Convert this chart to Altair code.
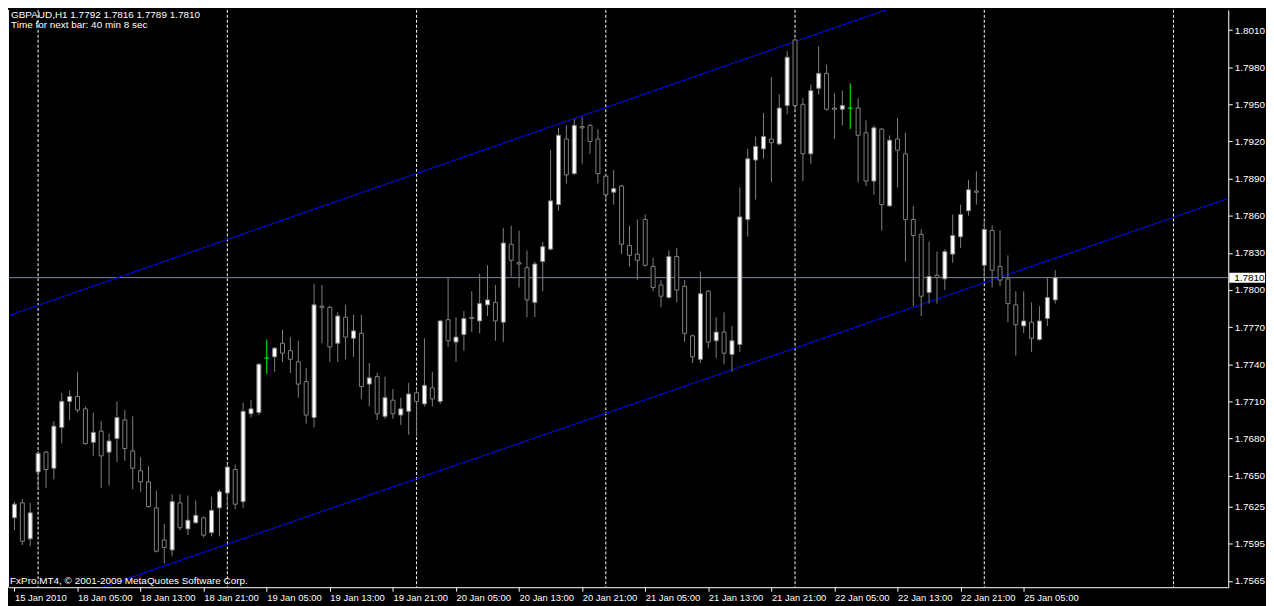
import altair as alt
import pandas as pd

# ---------------- data ----------------
symbol_info = "GBPAUD,H1  1.7792 1.7816 1.7789 1.7810"
timer_info = "Time for next bar: 40 min 8 sec"
copyright_info = "FxPro MT4, \u00a9 2001-2009 MetaQuotes Software Corp."

opens = [1.7616, 1.7628, 1.7599, 1.7653, 1.7669, 1.7656, 1.7689, 1.7710, 1.7714, 1.7704,
         1.7677, 1.7686, 1.7669, 1.7680, 1.7695, 1.7670, 1.7654, 1.7645, 1.7624, 1.7598,
         1.7590, 1.7628, 1.7607, 1.7612, 1.7616, 1.7604, 1.7624, 1.7636, 1.7655, 1.7629,
         1.7700, 1.7701, 1.7745, 1.7746, 1.7757, 1.7751, 1.7742, 1.7726, 1.7697, 1.7787,
         1.7786, 1.7757, 1.7778, 1.7761, 1.7765, 1.7724, 1.7730, 1.7698, 1.7711, 1.7699,
         1.7702, 1.7717, 1.7708, 1.7721, 1.7710, 1.7776, 1.7758, 1.7764, 1.7778, 1.7775,
         1.7788, 1.7790, 1.7774, 1.7837, 1.7822, 1.7818, 1.7790, 1.7823, 1.7833, 1.7869,
         1.7922, 1.7894, 1.7932, 1.7933, 1.7922, 1.7892, 1.7879, 1.7884, 1.7836, 1.7829,
         1.7857, 1.7819, 1.7804, 1.7794, 1.7827, 1.7803, 1.7763, 1.7744, 1.7799, 1.7759,
         1.7766, 1.7748, 1.7756, 1.7857, 1.7905, 1.7914, 1.7922, 1.7918, 1.7949, 1.8002,
         1.7950, 1.7910, 1.7963, 1.7975, 1.7947, 1.7946, 1.7947, 1.7947, 1.7927, 1.7888,
         1.7930, 1.7868, 1.7922, 1.7910, 1.7857, 1.7845, 1.7798, 1.7812, 1.7809, 1.7829,
         1.7843, 1.7864, 1.7880, 1.7820, 1.7848, 1.7819, 1.7809, 1.7788, 1.7771, 1.7774,
         1.7760, 1.7777, 1.7792]
highs = [1.7629, 1.7631, 1.7628, 1.7670, 1.7670, 1.7694, 1.7717, 1.7719, 1.7734, 1.7706,
         1.7701, 1.7694, 1.7684, 1.7710, 1.7703, 1.7698, 1.7665, 1.7658, 1.7638, 1.7611,
         1.7635, 1.7635, 1.7634, 1.7630, 1.7617, 1.7633, 1.7639, 1.7659, 1.7659, 1.7709,
         1.7711, 1.7741, 1.7760, 1.7754, 1.7768, 1.7762, 1.7759, 1.7737, 1.7805, 1.7804,
         1.7787, 1.7782, 1.7788, 1.7780, 1.7780, 1.7741, 1.7733, 1.7730, 1.7720, 1.7713,
         1.7725, 1.7720, 1.7761, 1.7734, 1.7776, 1.7810, 1.7778, 1.7783, 1.7799, 1.7813,
         1.7820, 1.7804, 1.7850, 1.7852, 1.7848, 1.7832, 1.7823, 1.7839, 1.7913, 1.7931,
         1.7933, 1.7938, 1.7940, 1.7934, 1.7930, 1.7894, 1.7897, 1.7885, 1.7852, 1.7857,
         1.7861, 1.7826, 1.7808, 1.7832, 1.7834, 1.7808, 1.7764, 1.7815, 1.7800, 1.7778,
         1.7782, 1.7771, 1.7883, 1.7914, 1.7924, 1.7943, 1.7972, 1.7958, 1.7993, 1.8003,
         1.7955, 1.7966, 1.7997, 1.7982, 1.7959, 1.7961, 1.7967, 1.7955, 1.7937, 1.7933,
         1.7931, 1.7925, 1.7939, 1.7927, 1.7868, 1.7849, 1.7839, 1.7831, 1.7833, 1.7861,
         1.7869, 1.7889, 1.7896, 1.7856, 1.7852, 1.7848, 1.7828, 1.7799, 1.7799, 1.7790,
         1.7787, 1.7810, 1.7816]
lows = [1.7606, 1.7594, 1.7593, 1.7639, 1.7640, 1.7647, 1.7676, 1.7695, 1.7701, 1.7675,
        1.7666, 1.7640, 1.7642, 1.7661, 1.7662, 1.7639, 1.7637, 1.7624, 1.7588, 1.7579,
        1.7585, 1.7606, 1.7602, 1.7611, 1.7600, 1.7601, 1.7601, 1.7625, 1.7623, 1.7624,
        1.7697, 1.7699, 1.7732, 1.7734, 1.7742, 1.7733, 1.7713, 1.7692, 1.7689, 1.7757,
        1.7742, 1.7742, 1.7744, 1.7746, 1.7712, 1.7706, 1.7695, 1.7696, 1.7696, 1.7691,
        1.7683, 1.7682, 1.7706, 1.7706, 1.7708, 1.7754, 1.7742, 1.7751, 1.7766, 1.7765,
        1.7779, 1.7759, 1.7758, 1.7811, 1.7802, 1.7778, 1.7778, 1.7799, 1.7832, 1.7864,
        1.7886, 1.7893, 1.7902, 1.7910, 1.7886, 1.7872, 1.7869, 1.7829, 1.7819, 1.7808,
        1.7819, 1.7799, 1.7786, 1.7793, 1.7790, 1.7758, 1.7741, 1.7741, 1.7753, 1.7745,
        1.7740, 1.7734, 1.7750, 1.7843, 1.7873, 1.7906, 1.7887, 1.7917, 1.7942, 1.7946,
        1.7888, 1.7902, 1.7958, 1.7945, 1.7922, 1.7933, 1.7930, 1.7887, 1.7884, 1.7877,
        1.7848, 1.7867, 1.7883, 1.7823, 1.7787, 1.7779, 1.7789, 1.7789, 1.7800, 1.7822,
        1.7834, 1.7860, 1.7869, 1.7811, 1.7802, 1.7803, 1.7774, 1.7747, 1.7765, 1.7750,
        1.7759, 1.7771, 1.7789]
closes = [1.7627, 1.7597, 1.7620, 1.7668, 1.7655, 1.7690, 1.7710, 1.7714, 1.7703, 1.7676,
          1.7685, 1.7666, 1.7678, 1.7697, 1.7672, 1.7656, 1.7645, 1.7625, 1.7589, 1.7592,
          1.7629, 1.7608, 1.7614, 1.7618, 1.7602, 1.7622, 1.7637, 1.7657, 1.7627, 1.7702,
          1.7704, 1.7740, 1.7745, 1.7753, 1.7749, 1.7744, 1.7724, 1.7699, 1.7788, 1.7786,
          1.7754, 1.7779, 1.7762, 1.7767, 1.7722, 1.7729, 1.7700, 1.7713, 1.7700, 1.7704,
          1.7716, 1.7710, 1.7723, 1.7712, 1.7775, 1.7759, 1.7762, 1.7777, 1.7777, 1.7789,
          1.7792, 1.7775, 1.7838, 1.7824, 1.7821, 1.7792, 1.7821, 1.7835, 1.7872, 1.7925,
          1.7893, 1.7933, 1.7931, 1.7920, 1.7894, 1.7877, 1.7882, 1.7837, 1.7828, 1.7824,
          1.7820, 1.7802, 1.7795, 1.7827, 1.7800, 1.7765, 1.7746, 1.7797, 1.7758, 1.7766,
          1.7749, 1.7759, 1.7859, 1.7906, 1.7916, 1.7924, 1.7919, 1.7947, 1.7988, 1.7949,
          1.7910, 1.7961, 1.7975, 1.7946, 1.7946, 1.7949, 1.7947, 1.7925, 1.7888, 1.7931,
          1.7869, 1.7921, 1.7913, 1.7857, 1.7844, 1.7795, 1.7811, 1.7810, 1.7831, 1.7844,
          1.7861, 1.7881, 1.7879, 1.7849, 1.7816, 1.7808, 1.7789, 1.7772, 1.7775, 1.7761,
          1.7775, 1.7794, 1.7810]

time_tick_bars = [0, 8, 16, 24, 32, 40, 48, 56, 64, 72, 80, 88, 96, 104, 112, 120, 128]
time_tick_labels = ["15 Jan 2010", "18 Jan 05:00", "18 Jan 13:00", "18 Jan 21:00",
                    "19 Jan 05:00", "19 Jan 13:00", "19 Jan 21:00", "20 Jan 05:00",
                    "20 Jan 13:00", "20 Jan 21:00", "21 Jan 05:00", "21 Jan 13:00",
                    "21 Jan 21:00", "22 Jan 05:00", "22 Jan 13:00", "22 Jan 21:00",
                    "25 Jan 05:00"]
day_start_bars = [3, 27, 51, 75, 99, 123, 147]
price_ticks = [1.8010, 1.7980, 1.7950, 1.7920, 1.7890, 1.7860, 1.7830, 1.7800,
               1.7770, 1.7740, 1.7710, 1.7680, 1.7650, 1.7625, 1.7595, 1.7565]
bid_price = [1.7810]

channel_bars = [-1, 160]
upper_channel = [1.77787, 1.81361]
lower_channel = [1.75331, 1.78873]

# ---------------- layout / style ----------------
W, H = 1228, 581
X_DOMAIN = [-0.1875, 153.3125]
Y_DOMAIN = [1.75599, 1.80263]
FONT = "Liberation Sans"
GRAY = "#808080"
BIDGRAY = "#778899"
GREEN = "#00ff00"

n = len(opens)
candles = pd.DataFrame({"i": list(range(n)), "open": opens, "high": highs,
                        "low": lows, "close": closes})
candles["bull"] = candles["close"] > candles["open"]
candles["doji"] = candles["close"] == candles["open"]

xs = alt.Scale(domain=X_DOMAIN, nice=False, zero=False)
ys = alt.Scale(domain=Y_DOMAIN, nice=False, zero=False)

label_expr = "[" + ",".join("'%s'" % t for t in time_tick_labels) + "][round(datum.value / 8)]"

x_axis = alt.Axis(orient="bottom", values=time_tick_bars, labelExpr=label_expr,
                  labelAlign="left", labelBaseline="top", labelPadding=1,
                  labelColor="white", labelFont=FONT, labelFontSize=9.5,
                  tickColor="white", tickSize=4, tickWidth=1,
                  domainColor="white", domainWidth=1, grid=False,
                  labelFlush=False, labelOverlap=False, title=None)
y_axis = alt.Axis(orient="right", values=price_ticks, format=".4f",
                  labelColor="white", labelFont=FONT, labelFontSize=10, labelPadding=2,
                  tickColor="white", tickSize=4, tickWidth=1,
                  domainColor="white", domainWidth=1, grid=False,
                  labelFlush=False, labelOverlap=False, title=None)


def X(field):
    return alt.X(field, scale=xs, axis=x_axis, title=None)


def Y(field):
    return alt.Y(field, scale=ys, axis=y_axis, title=None)


# vertical day separators
grid = alt.Chart(pd.DataFrame({"bar": day_start_bars})).mark_rule(
    color="white", strokeDash=[3, 2], strokeWidth=1
).encode(x=X("bar:Q"))

# left frame line
frame_left = alt.Chart(pd.DataFrame({"a": [0]})).mark_rule(color="white", strokeWidth=1).encode(
    x=alt.value(0.5), y=alt.value(0), y2=alt.value(H))

# bid line
bid_df = pd.DataFrame({"price": bid_price, "label": ["%.4f" % p for p in bid_price]})
bid_line = alt.Chart(bid_df).mark_rule(color=BIDGRAY, strokeWidth=1).encode(y=Y("price:Q"))

# channel
chan_df = pd.DataFrame({
    "bar": channel_bars + channel_bars,
    "price": upper_channel + lower_channel,
    "line": ["upper"] * len(channel_bars) + ["lower"] * len(channel_bars),
})
channel = alt.Chart(chan_df).mark_line(color="#0000ff", strokeWidth=1, clip=True).encode(
    x=X("bar:Q"), y=Y("price:Q"), detail="line:N")

# wicks
wicks = alt.Chart(candles).mark_rule(strokeWidth=1).encode(
    x=X("i:Q"), y=Y("low:Q"), y2="high:Q",
    color=alt.condition("datum.doji", alt.value(GREEN), alt.value(GRAY)))

# bodies
bodies = alt.Chart(candles).transform_filter("!datum.doji").mark_bar(
    stroke=GRAY, strokeWidth=1
).encode(
    x=X("i:Q"), y=Y("open:Q"), y2="close:Q",
    size=alt.value(4),
    fill=alt.condition("datum.bull", alt.value("white"), alt.value("black")))

# exact doji crosses
doji = alt.Chart(candles).transform_filter("datum.doji").transform_calculate(
    xl="datum.i - 0.3125", xr="datum.i + 0.3125"
).mark_rule(color=GREEN, strokeWidth=1).encode(
    x=X("xl:Q"), x2="xr:Q", y=Y("open:Q"))

# current price box on the price scale
box = alt.Chart(bid_df).mark_point(
    shape="M-1,-0.28L1,-0.28L1,0.28L-1,0.28Z", filled=True, color="white",
    opacity=1, size=1296
).encode(x=alt.value(W + 19), y=Y("price:Q"))
box_text = alt.Chart(bid_df).mark_text(
    align="left", baseline="middle", color="black", font=FONT, fontSize=10
).encode(x=alt.value(W + 6), y=Y("price:Q"), text="label:N")


# texts
def caption(txt, px, py):
    return alt.Chart(pd.DataFrame({"t": [txt]})).mark_text(
        align="left", baseline="alphabetic", color="white", font=FONT, fontSize=10
    ).encode(x=alt.value(px), y=alt.value(py), text="t:N")


header1 = caption(symbol_info, 3, 8)
header2 = caption(timer_info, 3, 18)
footer = caption(copyright_info, 2, 578)

chart = alt.layer(
    grid, bid_line, channel, wicks, bodies, doji, frame_left, box, box_text,
    header1, header2, footer
).properties(
    width=W, height=H, background="black",
    autosize=alt.AutoSizeParams(type="none"),
    padding={"left": 0, "top": 0, "right": 38, "bottom": 17},
).configure_view(strokeWidth=0)

chart.save("out.html", embed_options={"renderer": "svg", "actions": False})
